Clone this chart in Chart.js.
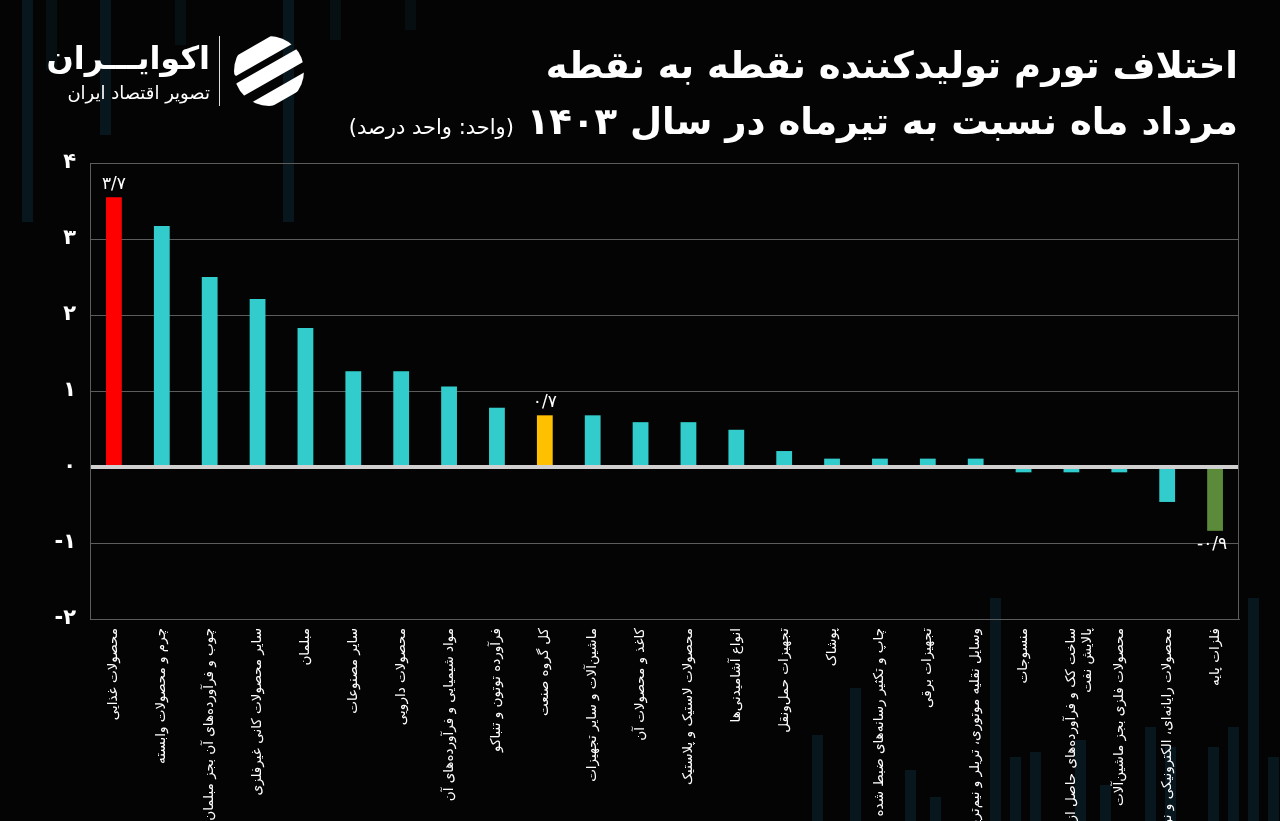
<!DOCTYPE html>
<html lang="fa">
<head>
<meta charset="utf-8">
<script src="https://cdn.jsdelivr.net/npm/chart.js@4.4.1/dist/chart.umd.min.js"></script>
<style>
  html, body { margin: 0; padding: 0; background: #040404; }
  #wrap { position: relative; width: 1280px; height: 821px; overflow: hidden; background: #040404; font-family: "DejaVu Sans", sans-serif; }
  #deco div { position: absolute; width: 11px; background: #08171d; }
  #chartBox { position: absolute; left: 0; top: 0; width: 1280px; height: 821px; }
  .title { position: absolute; right: 42px; color: #fff; font-weight: bold; direction: rtl; white-space: nowrap; font-size: 37px; line-height: 1; }
  #t1 { top: 47px; }
  #t2 { top: 103px; }
  #t2 .unit { font-weight: normal; font-size: 21px; }
  #logoText { position: absolute; left: 48px; top: 42px; color: #fff; direction: rtl; text-align: right; width: 162px; }
  #logoText .big { font-size: 32px; font-weight: bold; line-height: 1; white-space: nowrap; }
  #logoText .small { font-size: 18px; margin-top: 8px; white-space: nowrap; }
  #divider { position: absolute; left: 219px; top: 36px; width: 1px; height: 70px; background: #ddd; }
  #icon { position: absolute; left: 232px; top: 34px; }
</style>
</head>
<body>
<div id="wrap">
  <div id="deco">
    <div style="left:22px;top:0;height:222px"></div>
    <div style="left:46px;top:0;height:70px;opacity:.6"></div>
    <div style="left:100px;top:0;height:135px"></div>
    <div style="left:175px;top:0;height:45px;opacity:.6"></div>
    <div style="left:283px;top:0;height:222px"></div>
    <div style="left:330px;top:0;height:40px;opacity:.6"></div>
    <div style="left:405px;top:0;height:30px;opacity:.5"></div>
    <div style="left:990px;top:598px;height:223px"></div>
    <div style="left:1248px;top:598px;height:223px"></div>
    <div style="left:812px;top:735px;height:86px"></div>
    <div style="left:850px;top:688px;height:133px"></div>
    <div style="left:905px;top:770px;height:51px"></div>
    <div style="left:930px;top:797px;height:24px"></div>
    <div style="left:1010px;top:757px;height:64px"></div>
    <div style="left:1030px;top:752px;height:69px"></div>
    <div style="left:1075px;top:740px;height:81px"></div>
    <div style="left:1100px;top:785px;height:36px"></div>
    <div style="left:1145px;top:727px;height:94px"></div>
    <div style="left:1165px;top:747px;height:74px"></div>
    <div style="left:1208px;top:747px;height:74px"></div>
    <div style="left:1228px;top:727px;height:94px"></div>
    <div style="left:1268px;top:757px;height:64px"></div>
  </div>
  <div id="chartBox"><canvas id="c"></canvas></div>
  <div class="title" id="t1">اختلاف تورم تولیدکننده نقطه به نقطه</div>
  <div class="title" id="t2">مرداد ماه نسبت به تیرماه در سال ۱۴۰۳ <span class="unit">(واحد: واحد درصد)</span></div>
  <div id="logoText"><div class="big">اکوایـــران</div><div class="small">تصویر اقتصاد ایران</div></div>
  <div id="divider"></div>
  <svg id="icon" width="74" height="74" viewBox="0 0 74 74">
    <defs><clipPath id="cc"><circle cx="37" cy="37" r="35"/></clipPath></defs>
    <g clip-path="url(#cc)" fill="#fff">
      <polygon points="-10,30 60,-10 74,2 4,42"/>
      <polygon points="0,52 70,12 78,24 8,64"/>
      <polygon points="10,74 80,34 86,46 16,86"/>
    </g>
  </svg>
</div>
<script>
const categories = [
  'محصولات غذایی',
  'چرم و محصولات وابسته',
  'چوب و فرآورده\u200cهای آن بجز مبلمان',
  'سایر محصولات کانی غیرفلزی',
  'مبلمان',
  'سایر مصنوعات',
  'محصولات دارویی',
  'مواد شیمیایی و فرآورده\u200cهای آن',
  'فرآورده توتون و تنباکو',
  'کل گروه صنعت',
  'ماشین\u200cآلات و سایر تجهیزات',
  'کاغذ و محصولات آن',
  'محصولات لاستیک و پلاستیک',
  'انواع آشامیدنی\u200cها',
  'تجهیزات حمل\u200cونقل',
  'پوشاک',
  'چاپ و تکثیر رسانه\u200cهای ضبط شده',
  'تجهیزات برقی',
  'وسایل نقلیه موتوری، تریلر و نیم\u200cتریلر',
  'منسوجات',
  ['ساخت کک و فرآورده\u200cهای حاصل از', 'پالایش نفت'],
  'محصولات فلزی بجز ماشین\u200cآلات',
  'محصولات رایانه\u200cای، الکترونیکی و نوری',
  'فلزات پایه'
];
const values = [3.55, 3.17, 2.50, 2.21, 1.83, 1.26, 1.26, 1.06, 0.78, 0.68, 0.68, 0.59, 0.59, 0.49, 0.21, 0.11, 0.11, 0.11, 0.11, -0.07, -0.07, -0.07, -0.46, -0.84];
const barColors = ['#ff0000', '#33cccc', '#33cccc', '#33cccc', '#33cccc', '#33cccc', '#33cccc', '#33cccc', '#33cccc', '#ffc000', '#33cccc', '#33cccc', '#33cccc', '#33cccc', '#33cccc', '#33cccc', '#33cccc', '#33cccc', '#33cccc', '#33cccc', '#33cccc', '#33cccc', '#33cccc', '#5b8a3a'];
const valueLabels = ['۳/۷', '', '', '', '', '', '', '', '', '۰/۷', '', '', '', '', '', '', '', '', '', '', '', '', '', '-۰/۹'];
const yTicks = [-2, -1, 0, 1, 2, 3, 4];

const faDigits = s => String(s).replace(/\d/g, d => '۰۱۲۳۴۵۶۷۸۹'[d]);

const valueLabelPlugin = {
  id: 'valueLabels',
  afterDatasetsDraw(chart) {
    const ctx = chart.ctx;
    const meta = chart.getDatasetMeta(0);
    ctx.save();
    ctx.fillStyle = '#ffffff';
    ctx.font = '17px "DejaVu Sans"';
    ctx.textAlign = 'center';
    valueLabels.forEach((t, i) => {
      if (!t) return;
      const el = meta.data[i];
      if (values[i] >= 0) { ctx.textBaseline = 'bottom'; ctx.fillText(t, el.x, el.y - 4); }
      else { ctx.textBaseline = 'top'; ctx.fillText(t, el.x - 3, el.y + 5); }
    });
    ctx.restore();
  }
};

const framePlugin = {
  id: 'frame',
  beforeDatasetsDraw(chart) {
    const a = chart.chartArea, ctx = chart.ctx;
    ctx.save();
    ctx.strokeStyle = '#5c5c5c';
    ctx.lineWidth = 1;
    ctx.beginPath();
    ctx.moveTo(a.right - 0.5, a.top);
    ctx.lineTo(a.right - 0.5, a.bottom);
    ctx.stroke();
    ctx.restore();
  }
};

new Chart(document.getElementById('c'), {
  type: 'bar',
  data: {
    labels: categories,
    datasets: [{
      data: values,
      backgroundColor: barColors,
      borderWidth: 0,
      barPercentage: 0.33,
      categoryPercentage: 1
    }]
  },
  options: {
    responsive: true,
    maintainAspectRatio: false,
    animation: false,
    layout: { padding: { top: 163, right: 41, left: 0, bottom: 0 } },
    plugins: { legend: { display: false }, tooltip: { enabled: false } },
    scales: {
      x: {
        ticks: { color: '#ffffff', font: { size: 13.5, family: 'DejaVu Sans' }, minRotation: 90, maxRotation: 90, autoSkip: false, padding: 9 },
        grid: { display: false, drawTicks: false },
        border: { display: true, color: '#5c5c5c' },
        afterFit(s) { s.height = 202; }
      },
      y: {
        min: Math.min(...yTicks),
        max: Math.max(...yTicks),
        afterBuildTicks(s) { s.ticks = yTicks.map(v => ({ value: v })); },
        ticks: { color: '#ffffff', font: { size: 21, weight: 'bold', family: 'DejaVu Sans' }, padding: 14, callback: v => faDigits(v) },
        grid: {
          color: c => (c.tick && c.tick.value === 0) ? '#d0d0d0' : '#5c5c5c',
          lineWidth: c => (c.tick && c.tick.value === 0) ? 4 : 1,
          drawTicks: false
        },
        border: { display: true, color: '#5c5c5c' },
        afterFit(s) { s.width = 90; }
      }
    }
  },
  plugins: [valueLabelPlugin, framePlugin]
});
</script>
</body>
</html>
